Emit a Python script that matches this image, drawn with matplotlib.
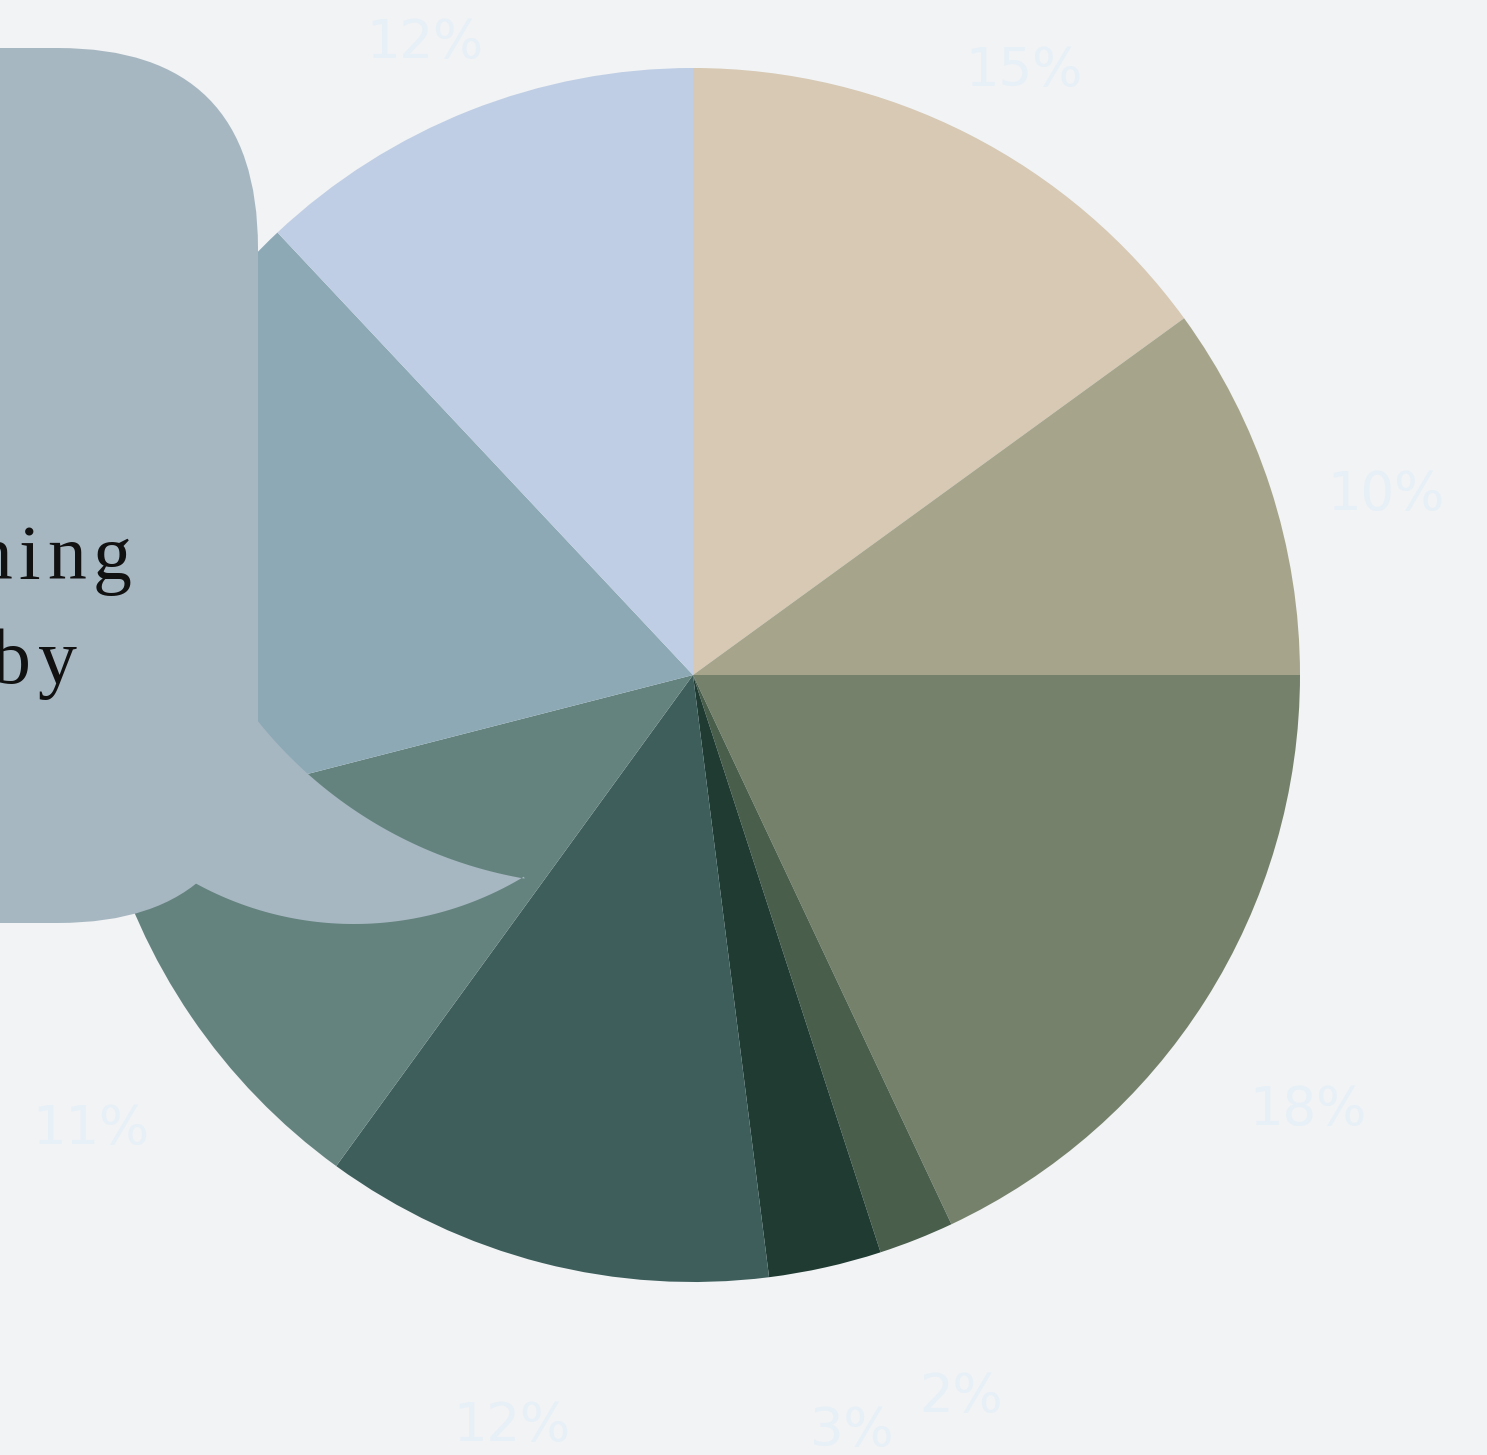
import numpy as np
import matplotlib
matplotlib.use("Agg")
import matplotlib.pyplot as plt
from matplotlib.patches import FancyBboxPatch, Polygon

# slice shares (percent), clockwise from twelve o'clock
shares = [15, 10, 18, 2, 3, 12, 11, 17, 12]
colors = ["#D7C9B3", "#A6A58C", "#76816B", "#4A5E4C", "#203B32",
          "#3E5E5C", "#64837F", "#8DA9B6", "#BFCEE4"]
pct_labels = [f"{v}%" for v in shares]
bubble_words = ["ning", "by"]

W, H = 1487, 1455
BG = "#F1F3F5"
BUBBLE = "#A7B7C1"

fig = plt.figure(figsize=(W / 100, H / 100), dpi=100, facecolor=BG)
ax = fig.add_axes([0, 0, 1, 1])
ax.set_facecolor(BG)

# --- pie ---
cx, cy, r = 693, 780, 607
wedges, _ = ax.pie(shares, colors=colors, startangle=90, counterclock=False,
                   center=(cx, cy), radius=r, wedgeprops=dict(linewidth=0))
ax.set_xlim(0, W)
ax.set_ylim(0, H)
ax.set_aspect("equal")
ax.axis("off")

# percent labels sit just outside the rim, nearly the background colour
for w, lab in zip(wedges, pct_labels):
    mid = np.deg2rad((w.theta1 + w.theta2) / 2)
    x = cx + 1.2 * r * np.cos(mid)
    y = cy + 1.2 * r * np.sin(mid) - 45
    ax.text(x, y, lab, ha="center", va="center", fontsize=38,
            color="#E7F0F7", family="DejaVu Sans", zorder=1)

# --- speech bubble on the left ---
box = FancyBboxPatch((-400, 532), 658, 875,
                     boxstyle="round,pad=0,rounding_size=200",
                     fc=BUBBLE, ec="none", zorder=3)
ax.add_patch(box)

t_top = np.deg2rad(np.linspace(-141.4, -99.8, 80))
top_edge = np.c_[599 + 437 * np.cos(t_top), 1007 + 437 * np.sin(t_top)]
t_bot = np.deg2rad(np.linspace(-58.9, -123.0, 100))
bot_edge = np.c_[354 + 329 * np.cos(t_bot), 860 + 329 * np.sin(t_bot)]
tail = Polygon(np.vstack([top_edge, bot_edge]), closed=True,
               fc=BUBBLE, ec="none", zorder=3)
ax.add_patch(tail)


def tracked_text(right, base, word, size, gap):
    # lay letters out right-to-left with extra spacing between them
    rend = fig.canvas.get_renderer()
    x = right
    for ch in reversed(word):
        t = ax.text(x, base, ch, ha="right", va="baseline", fontsize=size,
                    family="Liberation Serif", color="#111111", zorder=4)
        x -= t.get_window_extent(rend).width + gap


tracked_text(132, 876, bubble_words[0], 56, 7)
tracked_text(77, 772, bubble_words[1], 56, 7)

fig.savefig("out.png", dpi=100, facecolor=BG)
